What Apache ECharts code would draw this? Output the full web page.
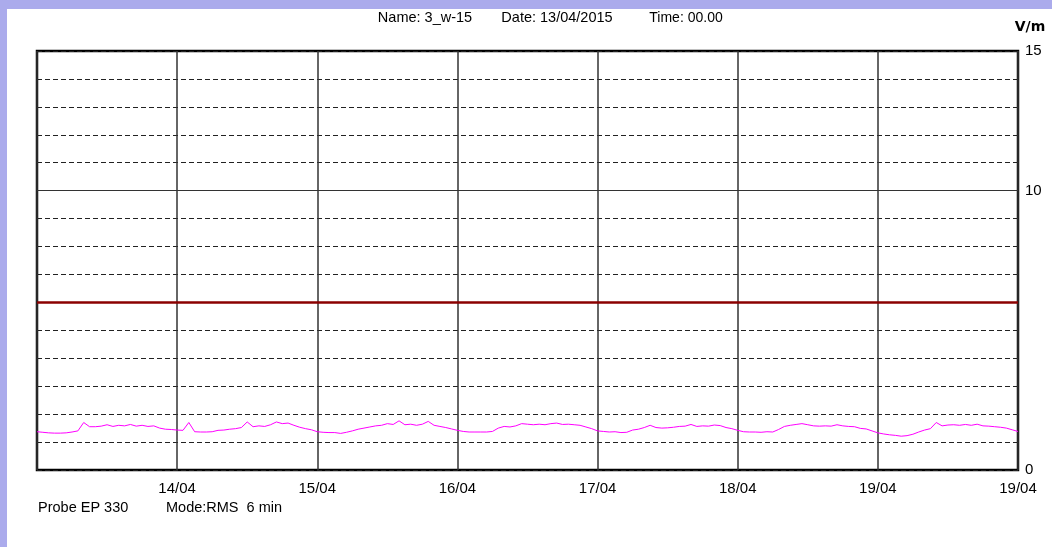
<!DOCTYPE html>
<html>
<head>
<meta charset="utf-8">
<script src="https://cdn.jsdelivr.net/npm/echarts@6/dist/echarts.min.js"></script>
<style>
html,body{margin:0;padding:0;background:#ABABEC;}
#outer{position:absolute;left:0;top:0;width:1052px;height:547px;background:#ABABEC;}
#chart{position:absolute;left:0;top:0;width:1052px;height:547px;}
</style>
</head>
<body>
<div id="outer"><div id="chart"></div></div>
<script>
// ---- DATA (hourly readings, V/m) ----
const day13 = [1.37,1.35,1.33,1.32,1.32,1.33,1.36,1.40,1.70,1.55,1.55,1.57,1.62,1.56,1.60,1.58,1.63,1.57,1.60,1.56,1.58,1.50,1.46,1.45];
const day14 = [1.43,1.42,1.70,1.37,1.36,1.36,1.37,1.42,1.43,1.46,1.48,1.52,1.72,1.55,1.58,1.56,1.62,1.72,1.66,1.68,1.60,1.53,1.48,1.44];
const day15 = [1.37,1.35,1.34,1.34,1.31,1.35,1.40,1.46,1.50,1.54,1.58,1.60,1.66,1.63,1.76,1.62,1.64,1.60,1.64,1.74,1.60,1.56,1.52,1.47];
const day16 = [1.42,1.38,1.36,1.36,1.36,1.36,1.38,1.50,1.56,1.54,1.58,1.66,1.64,1.62,1.64,1.62,1.66,1.68,1.63,1.64,1.62,1.60,1.54,1.48];
const day17 = [1.40,1.38,1.36,1.37,1.34,1.35,1.43,1.46,1.52,1.60,1.52,1.50,1.51,1.53,1.56,1.57,1.63,1.56,1.58,1.57,1.61,1.59,1.52,1.48];
const day18 = [1.42,1.37,1.36,1.36,1.35,1.37,1.36,1.45,1.56,1.60,1.63,1.66,1.62,1.58,1.57,1.58,1.57,1.62,1.58,1.56,1.55,1.49,1.47,1.40];
const day19 = [1.33,1.29,1.26,1.24,1.21,1.23,1.28,1.36,1.43,1.48,1.70,1.58,1.61,1.62,1.60,1.63,1.60,1.64,1.58,1.57,1.55,1.53,1.50,1.44,1.38];
const stepHours = 1;
const xTickLabels = ['', '14/04', '15/04', '16/04', '17/04', '18/04', '19/04', '19/04'];
const yTickLabels = [0, 10, 15];
const limitValue = 6;
const solidLineValue = 10;
const headerName = 'Name: 3_w-15';
const headerDate = 'Date: 13/04/2015';
const headerTime = 'Time: 00.00';
const unitText = 'V/m';
const probeText = 'Probe EP 330';
const modeText = 'Mode:RMS  6 min';

const values = [].concat(day13, day14, day15, day16, day17, day18, day19);
const seriesData = values.map((v, i) => [i * stepHours, v]);

const FONT = "'Liberation Sans', Arial, sans-serif";
const chart = echarts.init(document.getElementById('chart'), null, {renderer: 'canvas'});
chart.setOption({
  animation: false,
  backgroundColor: 'transparent',
  graphic: [
    {type: 'rect', z: -100, shape: {x: 7, y: 9, width: 1045, height: 538}, style: {fill: '#ffffff'}, silent: true},
    {type: 'text', x: 425, y: 18, style: {text: headerName, font: '14.5px ' + FONT, fill: '#000', align: 'center', verticalAlign: 'middle'}},
    {type: 'text', x: 557, y: 18, style: {text: headerDate, font: '14.5px ' + FONT, fill: '#000', align: 'center', verticalAlign: 'middle'}},
    {type: 'text', x: 686, y: 18, style: {text: headerTime, font: '14px ' + FONT, fill: '#000', align: 'center', verticalAlign: 'middle'}},
    {type: 'text', x: 1030, y: 27, style: {text: unitText, font: "bold 14px 'DejaVu Sans', sans-serif", fill: '#000', align: 'center', verticalAlign: 'middle'}},
    {type: 'text', x: 38, y: 508, style: {text: probeText, font: '14.5px ' + FONT, fill: '#000', align: 'left', verticalAlign: 'middle'}},
    {type: 'text', x: 166, y: 508, style: {text: modeText, font: '14.5px ' + FONT, fill: '#000', align: 'left', verticalAlign: 'middle'}}
  ],
  grid: {left: 37, top: 51, right: 34, bottom: 77, show: true, borderColor: '#000', borderWidth: 2.5, backgroundColor: 'transparent'},
  xAxis: {
    type: 'value', min: 0, max: (xTickLabels.length - 1) * 24, interval: 24,
    axisLine: {show: false}, axisTick: {show: false},
    axisLabel: {
      showMinLabel: true, showMaxLabel: true, margin: 11,
      color: '#000', fontFamily: FONT, fontSize: 15,
      formatter: v => xTickLabels[Math.round(v / 24)] || ''
    },
    splitLine: {show: true, lineStyle: {color: '#333', width: 1.5, type: 'solid'}}
  },
  yAxis: {
    type: 'value', position: 'right', min: 0, max: 15, interval: 1,
    axisLine: {show: false}, axisTick: {show: false},
    axisLabel: {
      margin: 7, color: '#000', fontFamily: FONT, fontSize: 15,
      formatter: v => yTickLabels.indexOf(v) >= 0 ? String(v) : ''
    },
    splitLine: {show: true, lineStyle: {color: '#222', width: 1, type: [5, 3]}}
  },
  series: [{
    type: 'line', data: seriesData, showSymbol: false, symbol: 'none',
    lineStyle: {color: '#FF00FF', width: 1}, z: 3,
    markLine: {
      silent: true, symbol: ['none', 'none'], label: {show: false},
      data: [
        {yAxis: solidLineValue, lineStyle: {color: '#333', width: 1, type: 'solid'}},
        {yAxis: limitValue, lineStyle: {color: '#8B0000', width: 2.5, type: 'solid'}}
      ]
    }
  }]
});
</script>
</body>
</html>
